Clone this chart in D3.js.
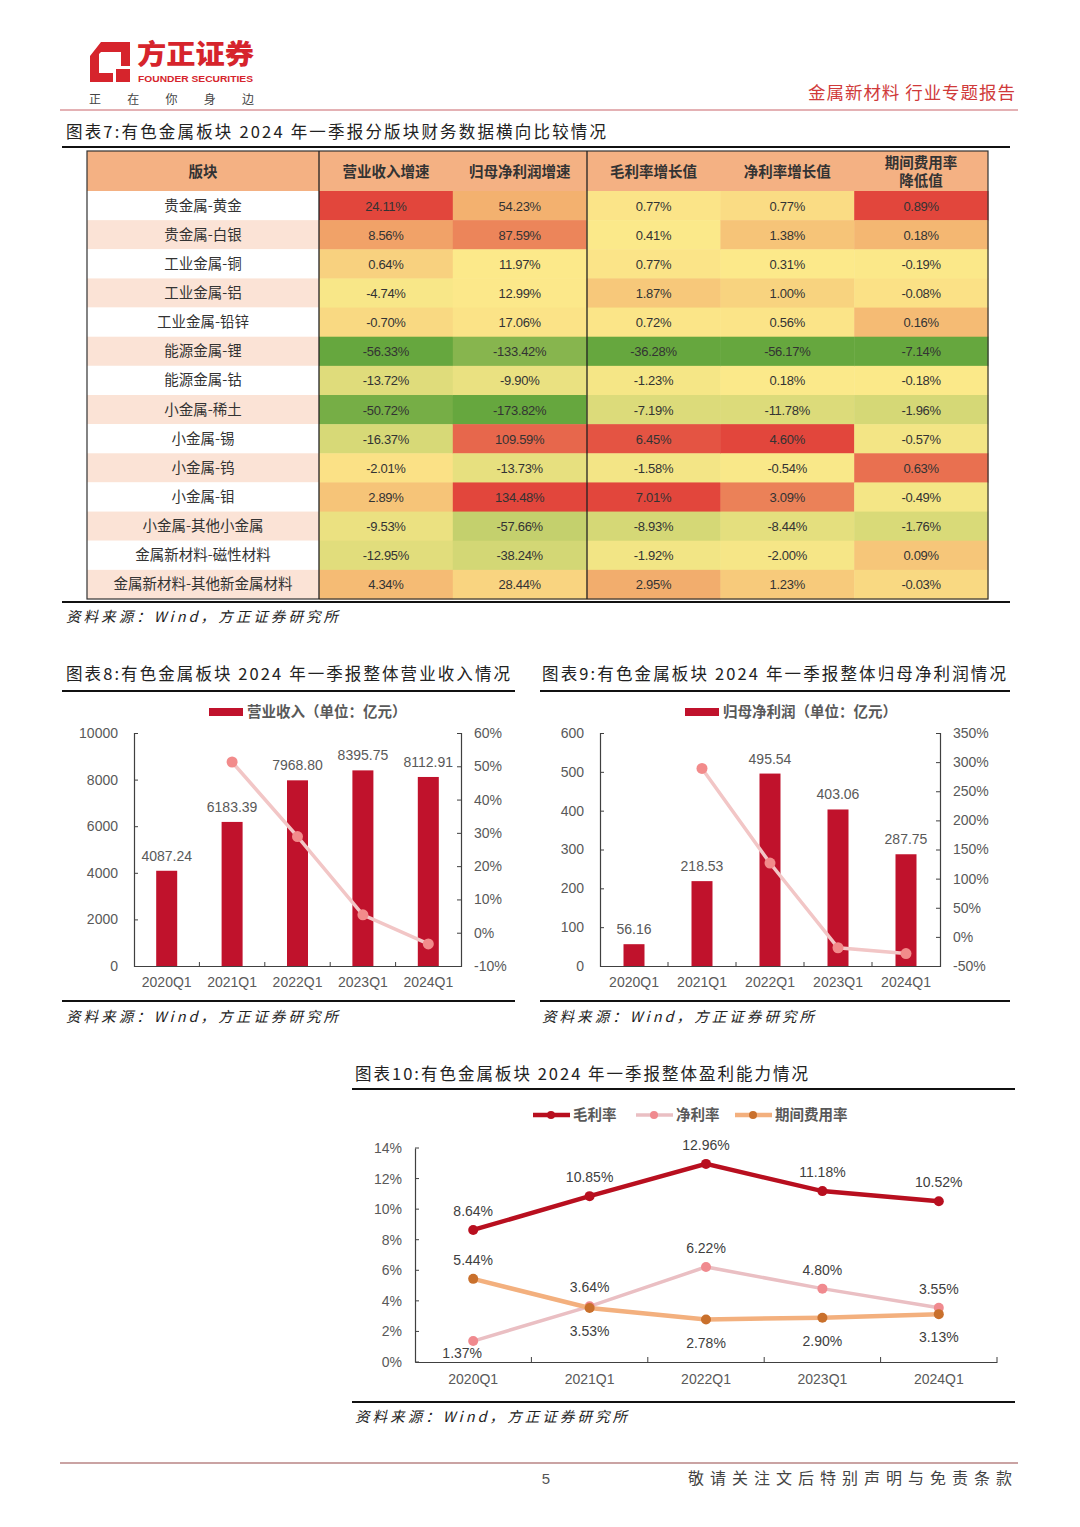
<!DOCTYPE html>
<html><head><meta charset="utf-8">
<script src="https://cdn.jsdelivr.net/npm/d3@7"></script>
<style>
body{margin:0;background:#fff;}
svg{display:block;}
text{font-family:"Liberation Sans",Arial,"Noto Sans CJK SC",sans-serif;}
.cjk{font-family:"Noto Sans CJK SC","Noto Sans",sans-serif;}
</style></head><body>
<svg id="page" width="1080" height="1527"></svg>
<script>
// ---------- DATA ----------
const sectors = ["贵金属-黄金","贵金属-白银","工业金属-铜","工业金属-铝","工业金属-铅锌","能源金属-锂","能源金属-钴","小金属-稀土","小金属-锡","小金属-钨","小金属-钼","小金属-其他小金属","金属新材料-磁性材料","金属新材料-其他新金属材料"];
const tableHeaders = ["营业收入增速","归母净利润增速","毛利率增长值","净利率增长值","期间费用率降低值"];
const sectorRevenueGrowth = [24.11,8.56,0.64,-4.74,-0.70,-56.33,-13.72,-50.72,-16.37,-2.01,2.89,-9.53,-12.95,4.34];
const sectorProfitGrowth = [54.23,87.59,11.97,12.99,17.06,-133.42,-9.90,-173.82,109.59,-13.73,134.48,-57.66,-38.24,28.44];
const sectorGrossMarginChange = [0.77,0.41,0.77,1.87,0.72,-36.28,-1.23,-7.19,6.45,-1.58,7.01,-8.93,-1.92,2.95];
const sectorNetMarginChange = [0.77,1.38,0.31,1.00,0.56,-56.17,0.18,-11.78,4.60,-0.54,3.09,-8.44,-2.00,1.23];
const sectorExpenseRatioDrop = [0.89,0.18,-0.19,-0.08,0.16,-7.14,-0.18,-1.96,-0.57,0.63,-0.49,-1.76,0.09,-0.03];

const quarters = ["2020Q1","2021Q1","2022Q1","2023Q1","2024Q1"];
const revenue = [4087.24,6183.39,7968.80,8395.75,8112.91];
const revenueGrowth = [null,51.29,28.87,5.36,-3.37];
const netProfit = [56.16,218.53,495.54,403.06,287.75];
const netProfitGrowth = [null,289.12,126.76,-18.66,-28.61];
const grossMargin = [8.64,10.85,12.96,11.18,10.52];
const netMargin = [1.37,3.64,6.22,4.80,3.55];
const expenseRatio = [5.44,3.53,2.78,2.90,3.13];

const revTicksLeft = [0,2000,4000,6000,8000,10000];
const revTicksRight = [-10,0,10,20,30,40,50,60];
const profTicksLeft = [0,100,200,300,400,500,600];
const profTicksRight = [-50,0,50,100,150,200,250,300,350];
const marginTicks = [0,2,4,6,8,10,12,14];

// ---------- PAGE ----------
const svg = d3.select("#page");
const RED = "#c0122c";
const GRAY = "#595959";

const logo = svg.append("g");
logo.append("path")
  .attr("d","M101,42 L130,42 L130,82 L90,82 L90,56 Z M101,52 L99,54 L99,73 L121,73 L121,52 Z")
  .attr("fill","#d6242c").attr("fill-rule","evenodd");
logo.append("path").attr("d","M113,66 L130,66 L130,82 L113,82 Z").attr("fill","#fff");
logo.append("path").attr("d","M116,69 L130,69 L130,82 L116,82 Z").attr("fill","#d6242c");
logo.append("text").attr("class","cjk").attr("x",137).attr("y",64)
  .attr("font-size",27).attr("font-weight",900).attr("fill","#d6242c")
  .attr("textLength",117).attr("lengthAdjust","spacingAndGlyphs").text("方正证券");
logo.append("text").attr("x",138).attr("y",82)
  .attr("font-size",9.5).attr("font-weight","bold").attr("fill","#d6242c")
  .attr("textLength",115).attr("lengthAdjust","spacingAndGlyphs").text("FOUNDER SECURITIES");
logo.append("text").attr("class","cjk").attr("x",89).attr("y",104)
  .attr("font-size",12).attr("fill","#444")
  .attr("textLength",165).attr("lengthAdjust","spacing").text("正在你身边");
svg.append("text").attr("class","cjk").attr("x",808).attr("y",99)
  .attr("font-size",17.5).attr("fill","#d03a3a")
  .attr("textLength",207).attr("lengthAdjust","spacing").text("金属新材料 行业专题报告");
svg.append("line").attr("x1",60).attr("x2",1018).attr("y1",110).attr("y2",110)
  .attr("stroke","#c9656b").attr("stroke-width",1.2);

function title(x,y,w,txt){
  svg.append("text").attr("class","cjk").attr("x",x).attr("y",y)
    .attr("font-size",16.5).attr("fill","#222")
    .attr("textLength",w).attr("lengthAdjust","spacing").text(txt);
}
function rule(x1,x2,y,w){
  svg.append("line").attr("x1",x1).attr("x2",x2).attr("y1",y).attr("y2",y)
    .attr("stroke","#111").attr("stroke-width",w);
}
function source(x,y){
  svg.append("text").attr("class","cjk").attr("x",x).attr("y",y)
    .attr("font-size",14.5).attr("font-style","italic").attr("fill","#222")
    .attr("textLength",272).attr("lengthAdjust","spacing").text("资料来源：Wind，方正证券研究所");
}

// ---------- TABLE (图表7) ----------
title(66,138,540,"图表7:有色金属板块 2024 年一季报分版块财务数据横向比较情况");
rule(62,1010,147,2.2);

const tableCols = [sectorRevenueGrowth,sectorProfitGrowth,sectorGrossMarginChange,sectorNetMarginChange,sectorExpenseRatioDrop];
const tLeft = 87, tSplit = 319, tRight = 988, hTop = 151, hBot = 191, tBot = 599;
const colX = d3.scaleBand().domain(tableHeaders).range([tSplit,tRight]);
const rowY = d3.scaleBand().domain(sectors).range([hBot,tBot]);

const tg = svg.append("g");
tg.append("rect").attr("x",tLeft).attr("y",hTop).attr("width",tRight-tLeft).attr("height",hBot-hTop).attr("fill","#f4b183");
tg.append("text").attr("class","cjk").attr("x",(tLeft+tSplit)/2).attr("y",177).attr("text-anchor","middle")
  .attr("font-size",14.5).attr("font-weight","bold").attr("fill","#333").text("版块");
tableHeaders.forEach((h,i)=>{
  const cx = colX(h)+colX.bandwidth()/2;
  if(i===4){
    tg.append("text").attr("class","cjk").attr("x",cx).attr("y",168).attr("text-anchor","middle")
      .attr("font-size",14.5).attr("font-weight","bold").attr("fill","#333").text("期间费用率");
    tg.append("text").attr("class","cjk").attr("x",cx).attr("y",186).attr("text-anchor","middle")
      .attr("font-size",14.5).attr("font-weight","bold").attr("fill","#333").text("降低值");
  } else {
    tg.append("text").attr("class","cjk").attr("x",cx).attr("y",177).attr("text-anchor","middle")
      .attr("font-size",14.5).attr("font-weight","bold").attr("fill","#333").text(h);
  }
});
sectors.forEach((s,i)=>{
  tg.append("rect").attr("x",tLeft).attr("y",rowY(s)).attr("width",tSplit-tLeft).attr("height",rowY.bandwidth())
    .attr("fill", i%2===0 ? "#ffffff" : "#fbe3d6");
  tg.append("text").attr("class","cjk").attr("x",(tLeft+tSplit)/2).attr("y",rowY(s)+rowY.bandwidth()/2+5)
    .attr("text-anchor","middle").attr("font-size",14.5).attr("fill","#333").text(s);
});
tableCols.forEach((vals,ci)=>{
  const sorted = vals.slice().sort(d3.ascending);
  const color = d3.scaleLinear()
    .domain([d3.min(vals), d3.median(sorted), d3.max(vals)])
    .range(["#66a73e","#fce98a","#e2463c"]).interpolate(d3.interpolateRgb);
  const h = tableHeaders[ci];
  tg.selectAll(null).data(vals).join("rect")
    .attr("x",colX(h)).attr("y",(d,i)=>rowY(sectors[i]))
    .attr("width",colX.bandwidth()+0.5).attr("height",rowY.bandwidth()+0.5)
    .attr("fill",d=>color(d));
  tg.selectAll(null).data(vals).join("text")
    .attr("x",colX(h)+colX.bandwidth()/2).attr("y",(d,i)=>rowY(sectors[i])+rowY.bandwidth()/2+5)
    .attr("text-anchor","middle").attr("font-size",13).attr("fill","#333")
    .attr("letter-spacing",-0.3)
    .text(d=>d.toFixed(2)+"%");
});
tg.append("rect").attr("x",tLeft).attr("y",hTop).attr("width",tRight-tLeft).attr("height",tBot-hTop)
  .attr("fill","none").attr("stroke","#333").attr("stroke-width",1.2);
[tSplit,587].forEach(x=>tg.append("line").attr("x1",x).attr("x2",x).attr("y1",hTop).attr("y2",tBot).attr("stroke","#222").attr("stroke-width",1.3));
rule(62,1010,602,2.2);
source(66,622);

// ---------- BAR + LINE CHARTS ----------
function barLineChart(o){
  const g = svg.append("g");
  const x = d3.scaleBand().domain(quarters).range([o.x0,o.x1]);
  const yL = d3.scaleLinear().domain(o.leftDomain).range([o.yBot,o.yTop]);
  const yR = d3.scaleLinear().domain(o.rightDomain).range([o.yBot,o.yTop]);
  g.append("rect").attr("x",o.legX).attr("y",708).attr("width",34).attr("height",8).attr("fill",RED);
  g.append("text").attr("class","cjk").attr("x",o.legX+38).attr("y",717)
    .attr("font-size",14.5).attr("font-weight","bold").attr("fill",GRAY).text(o.legend);
  g.selectAll(null).data(o.bars).join("rect")
    .attr("x",(d,i)=>x(quarters[i])+x.bandwidth()/2-o.barW/2)
    .attr("y",d=>yL(d)).attr("width",o.barW).attr("height",d=>yL(0)-yL(d)).attr("fill",RED);
  g.selectAll(null).data(o.bars).join("text")
    .attr("x",(d,i)=>x(quarters[i])+x.bandwidth()/2).attr("y",d=>yL(d)-10)
    .attr("text-anchor","middle").attr("font-size",14).attr("fill",GRAY).text(d=>d.toFixed(2));
  const la = g.append("g").attr("transform",`translate(${o.x0},0)`)
    .call(d3.axisLeft(yL).tickValues(o.leftTicks).tickSize(-4).tickPadding(16).tickFormat(d3.format("d")));
  const ra = g.append("g").attr("transform",`translate(${o.x1},0)`)
    .call(d3.axisRight(yR).tickValues(o.rightTicks).tickSize(-4).tickPadding(13).tickFormat(d=>d+"%"));
  const xa = g.append("g").attr("transform",`translate(0,${o.yBot})`)
    .call(d3.axisBottom(x).tickSize(0).tickPadding(11));
  [la,ra,xa].forEach(a=>{
    a.select(".domain").attr("stroke","#404040").attr("stroke-width",1.2);
    a.selectAll(".tick line").attr("stroke","#404040");
    a.selectAll("text").attr("font-size",14).attr("fill",GRAY).attr("font-family","Liberation Sans, Arial, sans-serif");
  });
  g.selectAll(null).data(quarters.slice(0,-1)).join("line")
    .attr("x1",d=>x(d)+x.bandwidth()).attr("x2",d=>x(d)+x.bandwidth())
    .attr("y1",o.yBot).attr("y2",o.yBot-4).attr("stroke","#404040");
  const pts = o.line.map((v,i)=>({v,i})).filter(d=>d.v!==null);
  g.append("path").datum(pts)
    .attr("d",d3.line().x(d=>x(quarters[d.i])+x.bandwidth()/2).y(d=>yR(d.v)))
    .attr("fill","none").attr("stroke","#f2c6c6").attr("stroke-width",3.5);
  g.selectAll(null).data(pts).join("circle")
    .attr("cx",d=>x(quarters[d.i])+x.bandwidth()/2).attr("cy",d=>yR(d.v)).attr("r",5.5)
    .attr("fill","#f28b8b");
}

title(66,680,444,"图表8:有色金属板块 2024 年一季报整体营业收入情况");
rule(62,515,691,2);
barLineChart({x0:134,x1:461,yTop:733,yBot:966,leftDomain:[0,10000],rightDomain:[-10,60],
  leftTicks:revTicksLeft,rightTicks:revTicksRight,bars:revenue,line:revenueGrowth,barW:21,
  legX:209,legend:"营业收入（单位：亿元）"});
rule(62,515,1001,2);
source(66,1022);

title(542,680,464,"图表9:有色金属板块 2024 年一季报整体归母净利润情况");
rule(540,1010,691,2);
barLineChart({x0:600,x1:940,yTop:733,yBot:966,leftDomain:[0,600],rightDomain:[-50,350],
  leftTicks:profTicksLeft,rightTicks:profTicksRight,bars:netProfit,line:netProfitGrowth,barW:21,
  legX:685,legend:"归母净利润（单位：亿元）"});
rule(540,1010,1001,2);
source(542,1022);

// ---------- LINE CHART (图表10) ----------
title(355,1080,453,"图表10:有色金属板块 2024 年一季报整体盈利能力情况");
rule(352,1015,1089,2);
(function(){
  const g = svg.append("g");
  const x = d3.scaleBand().domain(quarters).range([415,997]);
  const y = d3.scaleLinear().domain([0,14]).range([1362,1148]);
  const ya = g.append("g").attr("transform","translate(415,0)")
    .call(d3.axisLeft(y).tickValues(marginTicks).tickSize(0).tickPadding(13).tickFormat(d=>d+"%"));
  const xa = g.append("g").attr("transform","translate(0,1362)")
    .call(d3.axisBottom(x).tickSize(0).tickPadding(12));
  [ya,xa].forEach(a=>{
    a.select(".domain").attr("stroke","#404040").attr("stroke-width",1.2);
    a.selectAll("text").attr("font-size",14).attr("fill",GRAY).attr("font-family","Liberation Sans, Arial, sans-serif");
  });
  g.selectAll(null).data(marginTicks).join("line")
    .attr("x1",415).attr("x2",419).attr("y1",d=>y(d)).attr("y2",d=>y(d)).attr("stroke","#404040");
  g.selectAll(null).data(quarters).join("line")
    .attr("x1",d=>x(d)+x.bandwidth()).attr("x2",d=>x(d)+x.bandwidth())
    .attr("y1",1362).attr("y2",1357).attr("stroke","#404040");

  const cx = i=>x(quarters[i])+x.bandwidth()/2;
  const series = [
    {name:"毛利率",vals:grossMargin,line:"#b80f1f",dot:"#b80f1f",w:4.5,lab:[-1,-1,-1,-1,-1]},
    {name:"净利率",vals:netMargin,line:"#eabfc3",dot:"#f08a8f",w:3.5,lab:[1,-1,-1,-1,-1]},
    {name:"期间费用率",vals:expenseRatio,line:"#f3b07e",dot:"#c9702c",w:4.5,lab:[-1,1,1,1,1]}
  ];
  [series[1],series[2],series[0]].forEach(s=>{
    g.append("path").datum(s.vals)
      .attr("d",d3.line().x((d,i)=>cx(i)).y(d=>y(d)))
      .attr("fill","none").attr("stroke",s.line).attr("stroke-width",s.w);
    g.selectAll(null).data(s.vals).join("circle")
      .attr("cx",(d,i)=>cx(i)).attr("cy",d=>y(d)).attr("r",5).attr("fill",s.dot);
  });
  series.forEach(s=>{
    const low = s.name==="净利率";
    g.selectAll(null).data(s.vals).join("text")
      .attr("x",(d,i)=>cx(i)+(low&&i===0?-11:0))
      .attr("y",(d,i)=>s.lab[i]<0 ? y(d)-14 : y(d)+(low?17:28))
      .attr("text-anchor","middle").attr("font-size",14).attr("fill","#404040")
      .text(d=>d.toFixed(2)+"%");
  });
  const legs = [{s:series[0],x:533},{s:series[1],x:636},{s:series[2],x:735}];
  legs.forEach(l=>{
    g.append("line").attr("x1",l.x).attr("x2",l.x+37).attr("y1",1115).attr("y2",1115)
      .attr("stroke",l.s.line).attr("stroke-width",l.s.w);
    g.append("circle").attr("cx",l.x+18).attr("cy",1115).attr("r",4).attr("fill",l.s.dot);
    g.append("text").attr("class","cjk").attr("x",l.x+40).attr("y",1120)
      .attr("font-size",14.5).attr("font-weight","bold").attr("fill",GRAY).text(l.s.name);
  });
})();
rule(352,1015,1402,2);
source(355,1422);

// ---------- FOOTER ----------
svg.append("line").attr("x1",60).attr("x2",1018).attr("y1",1463).attr("y2",1463)
  .attr("stroke","#b88585").attr("stroke-width",1.5);
svg.append("text").attr("x",546).attr("y",1484).attr("text-anchor","middle")
  .attr("font-size",15).attr("fill","#555").text("5");
svg.append("text").attr("class","cjk").attr("x",688).attr("y",1484)
  .attr("font-size",16).attr("fill","#444")
  .attr("textLength",324).attr("lengthAdjust","spacing").text("敬请关注文后特别声明与免责条款");
</script>
</body></html>
